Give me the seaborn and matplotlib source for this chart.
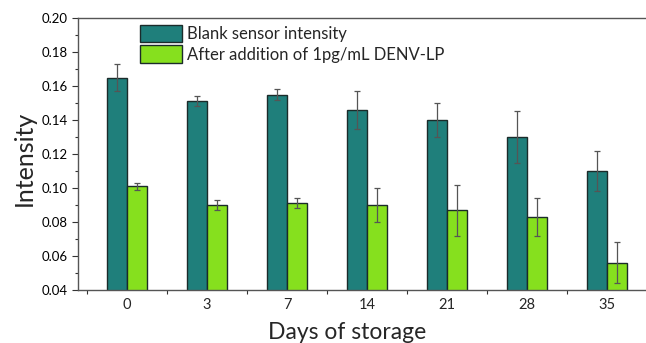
import matplotlib
matplotlib.use("Agg")
import matplotlib.pyplot as plt
import seaborn as sns
import pandas as pd
import numpy as np
from matplotlib.ticker import MultipleLocator, FixedLocator

days = ["0", "3", "7", "14", "21", "28", "35"]
blank = [0.165, 0.151, 0.155, 0.146, 0.140, 0.130, 0.110]
blank_err = [0.008, 0.003, 0.003, 0.011, 0.010, 0.015, 0.012]
after = [0.101, 0.090, 0.091, 0.090, 0.087, 0.083, 0.056]
after_err = [0.002, 0.003, 0.003, 0.010, 0.015, 0.011, 0.012]
series = ["Blank sensor intensity", "After addition of 1pg/mL DENV-LP"]

df = pd.DataFrame({
    "Day": days * 2,
    "Intensity": blank + after,
    "Err": blank_err + after_err,
    "Series": [series[0]] * len(days) + [series[1]] * len(days),
})

sns.set_theme(style="ticks")
plt.rcParams["font.family"] = ["Lato", "DejaVu Sans"]

fig = plt.figure(figsize=(6.46, 3.43), dpi=100)
ax = fig.add_axes([78 / 646, 53 / 343, 568 / 646, 272 / 343])

palette = {series[0]: "#1f7f7b", series[1]: "#86e01e"}
sns.barplot(data=df, x="Day", y="Intensity", hue="Series", order=days,
            hue_order=series, palette=palette, width=0.5, errorbar=None,
            edgecolor="#1b2b2a", linewidth=1.0, saturation=1, ax=ax)

# error bars at bar centers
for cont, s in zip(ax.containers, series):
    sub = df[df["Series"] == s].set_index("Day").loc[days]
    xs = [p.get_x() + p.get_width() / 2 for p in cont.patches]
    ax.errorbar(xs, sub["Intensity"].values, yerr=sub["Err"].values, fmt="none",
                ecolor="#555555", elinewidth=0.9, capsize=2.5, capthick=0.9, zorder=5)

ax.set_ylim(0.04, 0.20)
ax.set_xlim(-0.6125, 6.4875)
ax.yaxis.set_major_locator(MultipleLocator(0.02))
ax.yaxis.set_minor_locator(MultipleLocator(0.01))
ax.yaxis.set_major_formatter(matplotlib.ticker.FormatStrFormatter("%.2f"))
ax.xaxis.set_minor_locator(FixedLocator(np.arange(-0.5, 6.6, 1.0)))
ax.tick_params(axis="y", which="major", length=4, width=0.8, labelsize=9.5, colors="#333333", labelcolor="black")
ax.tick_params(axis="y", which="minor", length=2.5, width=0.8, colors="#333333")
ax.tick_params(axis="x", which="major", length=0, labelsize=10.5, pad=6)
ax.tick_params(axis="x", which="minor", length=3, width=0.8, colors="#333333")

for sp in ["top", "left", "bottom"]:
    ax.spines[sp].set_visible(True)
    ax.spines[sp].set_color("#555555")
    ax.spines[sp].set_linewidth(1.0)
ax.spines["right"].set_visible(False)

ax.set_xlabel("Days of storage", fontsize=16.5)
ax.xaxis.set_label_coords((347 - 78) / 568, (290 - 322) / 272)
ax.set_ylabel("Intensity", fontsize=18, va="center")
ax.yaxis.set_label_coords((24 - 78) / 568, (290 - 158.5) / 272)

leg = ax.legend(loc="upper left", bbox_to_anchor=(0.109, 0.975), frameon=False,
                fontsize=12, handlelength=2.5, handleheight=1.25,
                handletextpad=0.3, labelspacing=0.18, borderaxespad=0, borderpad=0)

fig.savefig("out.png", dpi=100)
